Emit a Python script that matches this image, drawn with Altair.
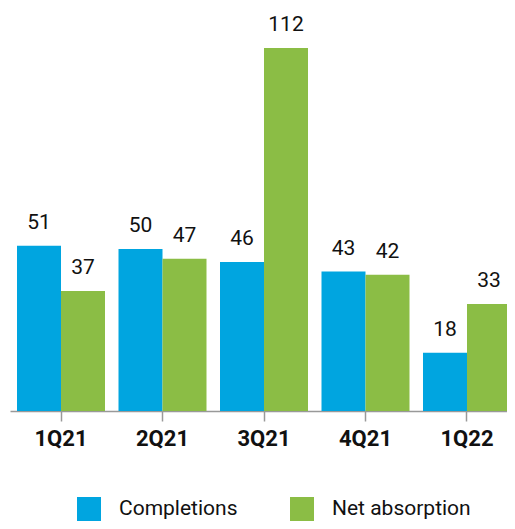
import altair as alt
import pandas as pd

quarters = ["1Q21", "2Q21", "3Q21", "4Q21", "1Q22"]
completions = [51, 50, 46, 43, 18]
net_absorption = [37, 47, 112, 42, 33]
series = ["Completions", "Net absorption"]
colors = ["#00A5E0", "#8BBD45"]

rows = []
for q, c, n in zip(quarters, completions, net_absorption):
    rows.append({"quarter": q, "series": series[0], "value": c})
    rows.append({"quarter": q, "series": series[1], "value": n})
df = pd.DataFrame(rows)

FONT = "Liberation Sans Narrow, Roboto, sans-serif"

x = alt.X(
    "quarter:N", sort=quarters, title=None,
    scale=alt.Scale(paddingInner=0.133, paddingOuter=0.069, range=[0, 508]),
    axis=alt.Axis(labelAngle=0, labelFont=FONT, labelFontSize=22, labelFontWeight="bold",
                  labelColor="#111111", domainColor="#999999", tickColor="#999999",
                  tickSize=10, labelPadding=7, domainWidth=1.5, tickWidth=1.5, grid=False),
)
xo = alt.XOffset("series:N", sort=series, scale=alt.Scale(paddingInner=0, paddingOuter=0))
y = alt.Y("value:Q", scale=alt.Scale(domain=[0, 120]), axis=None)
color = alt.Color(
    "series:N", sort=series, scale=alt.Scale(domain=series, range=colors), title=None,
    legend=alt.Legend(orient="none", legendX=67, legendY=475, direction="horizontal",
                      symbolType="square", symbolSize=576, symbolStrokeWidth=0,
                      labelFont=FONT, labelFontSize=21, labelColor="#111111", labelLimit=300,
                      labelOffset=18, columnPadding=52, padding=0),
)

base = alt.Chart(df).encode(x=x, xOffset=xo)
bars = base.mark_bar().encode(y=y, color=color)
labels = base.mark_text(baseline="alphabetic", dy=-17, font=FONT, fontSize=21, color="#111111").encode(
    y=y, text=alt.Text("value:Q")
)

chart = (
    alt.layer(bars, labels)
    .properties(width=497, height=389, autosize=alt.AutoSizeParams(type="none"),
                padding={"left": 2, "top": 14, "right": 0, "bottom": 110})
    .configure_view(stroke=None)
)

chart.save("out.html", embed_options={"renderer": "svg", "actions": False})
